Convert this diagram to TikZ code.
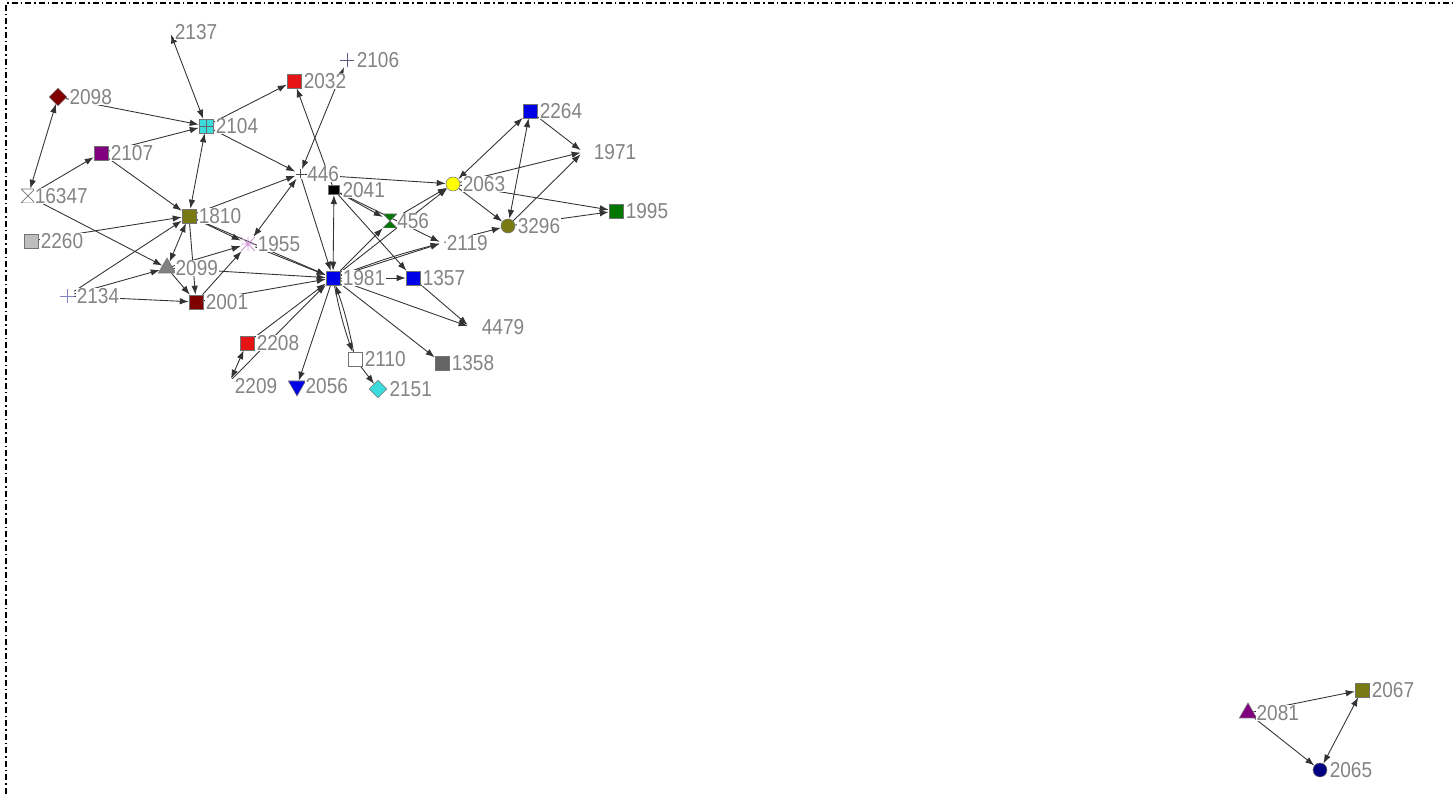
\documentclass[tikz,border=0pt]{standalone}
\usepackage{fontspec}
\newfontfamily\lblfont{Liberation Sans}[FakeStretch=0.88]
\usepackage{xcolor}
\usepackage{tikz}
\usetikzlibrary{arrows.meta}
\usetikzlibrary{shapes.geometric}
\usetikzlibrary{backgrounds}

\definecolor{labelgray}{RGB}{132,132,132}
\definecolor{mred}{RGB}{128,0,0}
\definecolor{vred}{RGB}{230,20,20}
\definecolor{vcyan}{RGB}{60,220,220}
\definecolor{vpurple}{RGB}{128,0,128}
\definecolor{volive}{RGB}{122,122,20}
\definecolor{vsilver}{RGB}{190,190,190}
\definecolor{vgray}{RGB}{128,128,128}
\definecolor{vdgray}{RGB}{100,100,100}
\definecolor{vgreen}{RGB}{0,120,0}
\definecolor{vblue}{RGB}{0,0,230}
\definecolor{vyellow}{RGB}{255,255,0}
\definecolor{vnavy}{RGB}{0,0,128}
\definecolor{vpink}{RGB}{210,150,220}
\definecolor{vslate}{RGB}{90,90,130}
\definecolor{vlav}{RGB}{130,130,200}

\begin{document}
\begin{tikzpicture}[x=0.2mm, y=-0.2mm,
    >={Latex[length=1.8mm, width=1.3mm]},
    every label/.style={font=\lblfont\fontsize{12.3}{13}\selectfont, text=labelgray, fill=white, inner sep=0.4pt},
    label distance=0.3mm,
    vtx/.style={rectangle, draw=black!55, line width=0.3pt, inner sep=0pt, minimum size=2.8mm},
    sq/.style={vtx, fill=#1},
    circ/.style={vtx, circle, fill=#1},
    dia/.style={vtx, diamond, minimum size=3.5mm, fill=#1},
    tri/.style={vtx, regular polygon, regular polygon sides=3, minimum size=4mm, fill=#1},
    dtri/.style={tri=#1, shape border rotate=180},
    gridsq/.style={sq=#1, path picture={\draw[black!60, line width=0.3pt] (path picture bounding box.north) -- (path picture bounding box.south) (path picture bounding box.west) -- (path picture bounding box.east);}},
    hglass/.style={vtx, draw=none, path picture={\filldraw[fill=#1, draw=black!55, line width=0.4pt] (path picture bounding box.north west) -- (path picture bounding box.north east) -- (path picture bounding box.south west) -- (path picture bounding box.south east) -- cycle;}},
    plusmark/.style={vtx, draw=none, path picture={\draw[#1, line width=0.5pt] (path picture bounding box.north) -- (path picture bounding box.south) (path picture bounding box.west) -- (path picture bounding box.east);}},
    starmark/.style={vtx, draw=none, path picture={\draw[#1, line width=0.5pt] (path picture bounding box.north) -- (path picture bounding box.south) (path picture bounding box.west) -- (path picture bounding box.east) (path picture bounding box.north west) -- (path picture bounding box.south east) (path picture bounding box.north east) -- (path picture bounding box.south west);}},
    hidden/.style={inner sep=0pt, minimum size=0.8mm},
    link/.style={->, draw=black!80, line width=0.5pt},
    dlink/.style={<->, draw=black!80, line width=0.5pt},
    border/.style={line width=1.4pt, dash pattern=on 1.2mm off 0.6mm on 0.3mm off 0.6mm}
]
    \useasboundingbox (0,0) rectangle (1456,794);
    \draw[border] (6,794) -- (6,3) -- (1456,3);

    \node[hidden, label=right:2137] (n2137) at (170,32) {};
    \node[plusmark=vslate, label=right:2106] (n2106) at (347,60) {};
    \node[dia=mred, label=right:2098] (n2098) at (58,97) {};
    \node[sq=vred, label=right:2032] (n2032) at (294,81) {};
    \node[gridsq=vcyan, label=right:2104] (n2104) at (206,126) {};
    \node[sq=vpurple, label=right:2107] (n2107) at (101,153) {};
    \node[hglass=white, label={[xshift=-0.6mm]right:16347}] (n16347) at (28,196) {};
    \node[sq=volive, label=right:1810] (n1810) at (189,216) {};
    \node[sq=vsilver, label=right:2260] (n2260) at (31,241) {};
    \node[tri=vgray, label=right:2099] (n2099) at (167,268) {};
    \node[plusmark=vlav, label=right:2134] (n2134) at (67,296) {};
    \node[sq=mred, label=right:2001] (n2001) at (196,302) {};
    \node[starmark=vpink, label=right:1955] (n1955) at (248,244) {};
    \node[plusmark=black!70, minimum size=1.8mm, label=right:446] (n446) at (300,174) {};
    \node[sq=black, minimum width=2.3mm, minimum height=1.9mm, label=right:2041] (n2041) at (334,190) {};
    \node[hglass=vgreen, label={[xshift=-0.5mm]right:456}] (n456) at (390,221) {};
    \node[sq=vblue, label=right:1981] (n1981) at (333,278) {};
    \node[sq=vblue, label=right:1357] (n1357) at (413,278) {};
    \node[circ=vyellow, label=right:2063] (n2063) at (453,184) {};
    \node[circ=volive, label=right:3296] (n3296) at (508,226) {};
    \node[sq=vblue, label=right:2264] (n2264) at (530,111) {};
    \node[hidden, label={[xshift=1.2mm]right:1971}] (n1971) at (583,152) {};
    \node[sq=vgreen, label=right:1995] (n1995) at (616,211) {};
    \node[hidden, label=right:2119] (n2119) at (442,243) {};
    \node[hidden, label={[xshift=1.4mm]right:4479}] (n4479) at (470,327) {};
    \node[sq=vred, label=right:2208] (n2208) at (247,343) {};
    \node[hidden, label={[yshift=-1mm]right:2209}] (n2209) at (230,381) {};
    \node[dtri=vblue, label=right:2056] (n2056) at (297,386) {};
    \node[sq=white, label=right:2110] (n2110) at (355,359) {};
    \node[dia=vcyan, label=right:2151] (n2151) at (378,389) {};
    \node[gridsq=vdgray, label=right:1358] (n1358) at (442,363) {};

    \node[tri=vpurple, label=right:2081] (n2081) at (1248,713) {};
    \node[sq=volive, label=right:2067] (n2067) at (1362,690) {};
    \node[circ=vnavy, label=right:2065] (n2065) at (1320,770) {};

    \begin{pgfonlayer}{background}
    \draw[dlink] (n2098) -- (n16347);
    \draw[dlink] (n2104) -- (n2137);
    \draw[dlink] (n2104) -- (n1810);
    \draw[dlink] (n1810) -- (n2099);
    \draw[dlink] (n1955) -- (n446);
    \draw[dlink] (n2106) -- (n446);
    \draw[dlink] (n1981) -- (n2041);
    \draw[dlink] (n2063) -- (n2264);
    \draw[dlink] (n2264) -- (n3296);
    \draw[dlink] (n2208) -- (n2209);

    \draw[link] (n2098) -- (n2104);
    \draw[link] (n2107) -- (n2104);
    \draw[link] (n16347) -- (n2107);
    \draw[link] (n2107) -- (n1810);
    \draw[link] (n2104) -- (n2032);
    \draw[link] (n2104) -- (n446);
    \draw[link] (n16347) -- (n2099);
    \draw[link] (n2260) -- (n1810);
    \draw[link] (n2134) -- (n1810);
    \draw[link] (n2134) -- (n2099);
    \draw[link] (n2134) -- (n2001);
    \draw[link] (n1810) -- (n2001);
    \draw[link] (n2099) -- (n2001);
    \draw[link] (n1810) -- (n1955);
    \draw[link] (n1810) -- (n1981);
    \draw[link] (n2099) -- (n1955);
    \draw[link] (n2001) -- (n1955);
    \draw[link] (n1810) -- (n446);
    \draw[link] (n2041) -- (n2032);
    \draw[link] (n446) -- (n1981);
    \draw[link] (n446) -- (n2063);
    \draw[link] (n2041) -- (n1357);
    \draw[link] (n2041) -- (n456);
    \draw[link] (n2041) -- (n2119);
    \draw[link] (n456) -- (n2063);
    \draw[link] (n1981) -- (n2063);
    \draw[link] (n1981) -- (n456);
    \draw[link] (n1981) -- (n2119);
    \draw[link] (n1981) to[bend left=3] (n2119);
    \draw[link] (n2063) -- (n3296);
    \draw[link] (n2264) -- (n1971);
    \draw[link] (n2063) -- (n1971);
    \draw[link] (n3296) -- (n1971);
    \draw[link] (n2063) -- (n1995);
    \draw[link] (n3296) -- (n1995);
    \draw[link] (n2119) -- (n3296);
    \draw[link] (n1955) -- (n1981);
    \draw[link] (n2099) -- (n1981);
    \draw[link] (n2001) -- (n1981);
    \draw[link] (n2208) -- (n1981);
    \draw[link] (n2209) -- (n1981);
    \draw[link] (n1981) -- (n2056);
    \draw[link] (n1981) to[bend right=4] (n2110);
    \draw[link] (n2110) to[bend right=4] (n1981);
    \draw[link] (n2110) -- (n2151);
    \draw[link] (n1981) -- (n1358);
    \draw[link] (n1981) -- (n4479);
    \draw[link] (n1357) -- (n4479);
    \draw[link] (n1981) -- (n1357);

    \draw[link] (n2081) -- (n2067);
    \draw[link] (n2081) -- (n2065);
    \draw[dlink] (n2065) -- (n2067);
    \end{pgfonlayer}
\end{tikzpicture}
\end{document}
